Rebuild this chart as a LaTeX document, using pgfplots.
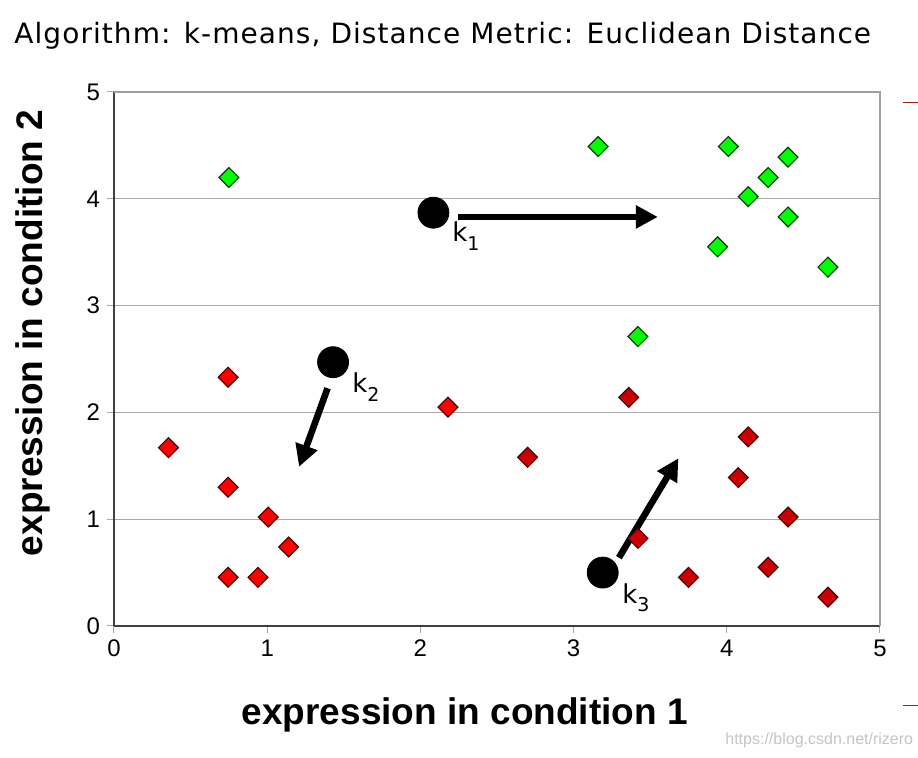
\documentclass[border=0pt]{standalone}
\usepackage{pgfplots}
\pgfplotsset{compat=1.18}
\usepackage{pgfplotstable}
\usetikzlibrary{arrows.meta}
\usepackage{fontspec}
\setmainfont{Liberation Sans}
\newfontfamily\dejavu{DejaVu Sans}
\newfontfamily\dejavutitle[LetterSpace=3.8]{DejaVu Sans}
\definecolor{axisdark}{HTML}{404040}
\definecolor{framegray}{HTML}{A0A0A0}
\definecolor{gridgray}{HTML}{A8A8A8}
\definecolor{limegreen}{HTML}{00FF00}
\definecolor{greenedge}{HTML}{004000}
\definecolor{brightred}{HTML}{FF0000}
\definecolor{darkred}{HTML}{CC0000}
\definecolor{rededge}{HTML}{4A0000}
\definecolor{wmgray}{HTML}{C4C4C4}
\definecolor{dashred}{HTML}{A02020}

\pgfplotstableread{
x y
0.75 4.20
3.16 4.49
4.01 4.49
4.40 4.39
4.27 4.20
4.14 4.02
4.40 3.83
3.94 3.55
4.66 3.36
3.42 2.71
}\greenpts

\pgfplotstableread{
x y
0.355 1.67
0.745 2.33
0.745 1.30
1.007 1.02
1.14 0.74
0.745 0.456
0.94 0.456
2.18 2.05
}\redpts

\pgfplotstableread{
x y
2.70 1.58
3.36 2.14
4.14 1.77
4.075 1.39
4.40 1.02
3.42 0.82
3.75 0.456
4.27 0.55
4.66 0.27
}\darkredpts

\pgfplotstableread{
x y
2.085 3.87
1.43 2.47
3.19 0.50
}\centroids

\begin{document}
\begin{tikzpicture}
\useasboundingbox (0,0) rectangle (459pt,379pt);
\begin{axis}[
  at={(57pt,66pt)}, anchor=south west,
  scale only axis, width=383pt, height=267pt,
  xmin=0, xmax=5, ymin=0, ymax=5,
  xtick={0,1,2,3,4,5}, ytick={0,1,2,3,4,5},
  axis x line*=bottom, axis y line*=left,
  axis line style={draw=axisdark, line width=0.8pt, -},
  tick align=outside, major tick length=3.5pt,
  tick style={draw=gridgray, line width=0.5pt},
  ymajorgrids, grid style={draw=gridgray, line width=0.5pt},
  /pgf/number format/assume math mode=true,
  ticklabel style={font=\fontsize{12}{14}\selectfont},
  xlabel={expression in condition 1},
  ylabel={expression in condition 2},
  xlabel style={font=\bfseries\fontsize{18.5}{20}\selectfont, at={(axis description cs:0.458,-0.1854)}, anchor=base},
  ylabel style={font=\bfseries\fontsize{18.5}{20}\selectfont, at={(axis description cs:-0.0927,0.5487)}, anchor=base, rotate=0},
  title={Algorithm: k-means, Distance Metric: Euclidean Distance},
  title style={font=\dejavutitle\fontsize{14}{16}\selectfont, at={(axis description cs:-0.1305,1.0675)}, anchor=base west, yshift=0pt, inner sep=0pt},
  clip=false,
]
\draw[framegray, line width=0.8pt] (rel axis cs:0,1) -- (rel axis cs:1,1) -- (rel axis cs:1,0);
\addplot[only marks, mark=square*, mark size=3.5pt, mark options={rotate=45, fill=limegreen, draw=greenedge, line width=0.6pt}] table[x=x,y=y] {\greenpts};
\addplot[only marks, mark=square*, mark size=3.5pt, mark options={rotate=45, fill=brightred, draw=rededge, line width=0.6pt}] table[x=x,y=y] {\redpts};
\addplot[only marks, mark=square*, mark size=3.5pt, mark options={rotate=45, fill=darkred, draw=rededge, line width=0.6pt}] table[x=x,y=y] {\darkredpts};
\addplot[black, line width=3.3pt, -{Triangle[length=11pt,width=11pt]}] coordinates {(2.245,3.83) (3.55,3.83)};
\addplot[black, line width=3.3pt, -{Triangle[length=11pt,width=11pt]}] coordinates {(1.394,2.226) (1.208,1.49)};
\addplot[black, line width=3.3pt, -{Triangle[length=11pt,width=11pt]}] coordinates {(3.296,0.64) (3.684,1.57)};
\addplot[only marks, mark=*, mark size=7.75pt, black] table[x=x,y=y] {\centroids};
\node[anchor=base west, font=\dejavu\fontsize{13}{15}\selectfont, inner sep=0pt] at (axis cs:2.206,3.596) {k\raisebox{-4.3pt}{\fontsize{9.5}{10}\selectfont 1}};
\node[anchor=base west, font=\dejavu\fontsize{13}{15}\selectfont, inner sep=0pt] at (axis cs:1.553,2.182) {k\raisebox{-4.3pt}{\fontsize{9.5}{10}\selectfont 2}};
\node[anchor=base west, font=\dejavu\fontsize{13}{15}\selectfont, inner sep=0pt] at (axis cs:3.316,0.215) {k\raisebox{-4.3pt}{\fontsize{9.5}{10}\selectfont 3}};
\end{axis}
\node[anchor=base west, inner sep=0pt, font=\fontsize{8}{9}\selectfont, text=wmgray] at (362.5pt,6.5pt) {https://blog.csdn.net/rizero};
\draw[dashred, line width=0.5pt] (451.5pt,327.5pt) -- (459pt,327.5pt);
\draw[dashred, line width=0.5pt] (451.5pt,26pt) -- (459pt,26pt);
\end{tikzpicture}
\end{document}
